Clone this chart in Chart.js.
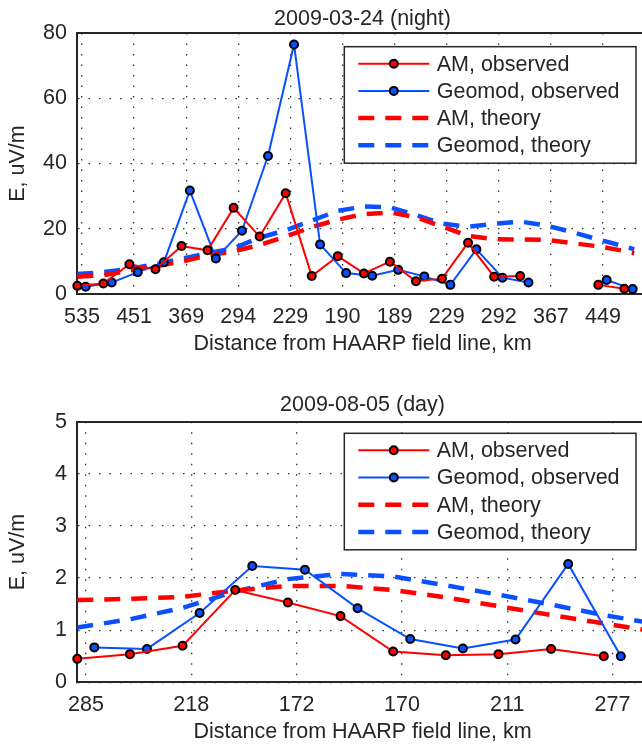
<!DOCTYPE html>
<html>
<head>
<meta charset="utf-8">
<script src="https://cdn.jsdelivr.net/npm/chart.js@4.4.1/dist/chart.umd.min.js"></script>
<style>
  html, body { margin: 0; padding: 0; background: #fff; overflow: hidden; width: 642px; height: 745px; }
  canvas { position: absolute; left: 0; }
  #night { top: 0; }
  #day { top: 360px; }
</style>
</head>
<body>
<canvas id="night" width="660" height="360"></canvas>
<canvas id="day" width="660" height="385"></canvas>
<script>
// ---- 2009-03-24 (night) ----
const nightTickPos = [0, 1, 2, 3, 4, 5, 6, 7, 8, 9, 10];
const nightTickLabels = ['535', '451', '369', '294', '229', '190', '189', '229', '292', '367', '449'];
const nightAmX = [-0.09, 0.41, 0.91, 1.41, 1.91, 2.41, 2.91, 3.41, 3.91, 4.41, 4.91, 5.41, 5.91, 6.41, 6.91, 7.41, 7.91, 8.41, 8.91, 9.41, 9.91, 10.41];
const nightAmObs = [2.5, 3.2, 9.1, 7.6, 14.7, 13.4, 26.4, 17.6, 30.9, 5.5, 11.6, 6.3, 9.9, 3.9, 4.7, 15.7, 5.3, 5.5, null, null, 2.8, 1.6];
const nightGeoX = [0.07, 0.57, 1.07, 1.57, 2.07, 2.57, 3.07, 3.57, 4.07, 4.57, 5.07, 5.57, 6.07, 6.57, 7.07, 7.57, 8.07, 8.57, 9.07, 9.57, 10.07, 10.57];
const nightGeoObs = [2.2, 3.5, 6.7, 9.7, 31.7, 10.9, 19.4, 42.3, 76.5, 15.2, 6.4, 5.6, 7.4, 5.4, 2.8, 13.7, 5.0, 3.5, null, null, 4.3, 1.5];
const nightTheoryX = [-0.09, 0.41, 0.91, 1.41, 1.91, 2.41, 2.91, 3.41, 3.91, 4.41, 4.91, 5.41, 5.91, 6.41, 6.91, 7.41, 7.91, 8.41, 8.91, 9.41, 9.91, 10.41, 10.6];
const nightAmTheory = [5.3, 5.8, 7.2, 8.5, 9.9, 11.8, 13.1, 15.0, 17.6, 20.5, 22.8, 24.5, 25.0, 23.5, 20.7, 17.8, 16.8, 16.7, 16.6, 15.6, 14.6, 13.2, 12.5];
const nightGeoTheory = [6.1, 6.7, 7.7, 9.1, 10.8, 12.5, 14.0, 17.3, 19.5, 22.5, 25.5, 26.8, 26.6, 24.2, 21.6, 20.6, 21.5, 22.2, 21.0, 19.0, 16.7, 14.6, 13.7];

// ---- 2009-08-05 (day) ----
const dayTickPos = [0, 1, 2, 3, 4, 5];
const dayTickLabels = ['285', '218', '172', '170', '211', '277'];
const dayAmX = [-0.083, 0.417, 0.917, 1.417, 1.917, 2.417, 2.917, 3.417, 3.917, 4.417, 4.917];
const dayAmObs = [0.45, 0.54, 0.70, 1.77, 1.53, 1.27, 0.59, 0.52, 0.54, 0.64, 0.50];
const dayGeoX = [0.079, 0.579, 1.079, 1.579, 2.079, 2.579, 3.079, 3.579, 4.079, 4.579, 5.079];
const dayGeoObs = [0.67, 0.64, 1.33, 2.23, 2.16, 1.42, 0.83, 0.65, 0.82, 2.27, 0.50];
const dayTheoryX = [-0.083, 0.417, 0.917, 1.417, 1.917, 2.417, 2.917, 3.417, 3.917, 4.417, 4.917, 5.42];
const dayAmTheory = [1.58, 1.60, 1.64, 1.76, 1.85, 1.85, 1.77, 1.63, 1.46, 1.29, 1.13, 0.97];
const dayGeoTheory = [1.05, 1.21, 1.43, 1.74, 1.98, 2.08, 2.03, 1.86, 1.68, 1.49, 1.29, 1.12];

const INK = '#262626';
const RED = '#ff0000';
const BLUE = '#0a50ff';
const FONT = '"Liberation Sans", Arial, Helvetica, sans-serif';
const FS = 21.5;

const pts = (xs, ys) => xs.map((x, i) => ({ x, y: ys[i] }));

// MATLAB-style legend box drawn inside the axes
const boxLegend = {
  id: 'boxLegend',
  afterDatasetsDraw(chart, args, o) {
    const ctx = chart.ctx;
    const x0 = chart.chartArea.left + o.dx, y0 = chart.chartArea.top + o.dy;
    ctx.save();
    ctx.fillStyle = '#fff';
    ctx.fillRect(x0, y0, o.w, o.h);
    ctx.strokeStyle = INK; ctx.lineWidth = 1.5;
    ctx.strokeRect(x0, y0, o.w, o.h);
    chart.data.datasets.forEach((ds, i) => {
      const y = y0 + o.firstRow + i * o.rowH;
      ctx.beginPath();
      ctx.setLineDash(ds.borderDash || []);
      ctx.lineWidth = ds.borderWidth; ctx.strokeStyle = ds.borderColor;
      ctx.moveTo(x0 + o.lineX0, y); ctx.lineTo(x0 + o.lineX1, y);
      ctx.stroke();
      ctx.setLineDash([]);
      if (ds.pointRadius > 0) {
        ctx.beginPath();
        ctx.arc(x0 + (o.lineX0 + o.lineX1) / 2, y, ds.pointRadius, 0, Math.PI * 2);
        ctx.fillStyle = ds.pointBackgroundColor; ctx.fill();
        ctx.lineWidth = ds.pointBorderWidth; ctx.strokeStyle = ds.pointBorderColor;
        ctx.stroke();
      }
      ctx.fillStyle = INK;
      ctx.font = FS + 'px ' + FONT;
      ctx.textBaseline = 'middle';
      ctx.fillText(ds.label, x0 + o.textX, y + 1);
    });
    ctx.restore();
  }
};

function observed(label, xs, ys, color) {
  return {
    label, data: pts(xs, ys), order: 0,
    borderColor: color, borderWidth: 2,
    pointRadius: 4, pointBackgroundColor: color,
    pointBorderColor: '#000', pointBorderWidth: 2,
    spanGaps: false, clip: false
  };
}
function theory(label, xs, ys, color) {
  return {
    label, data: pts(xs, ys), order: 1,
    borderColor: color, borderWidth: 4.5, borderDash: [16, 11],
    pointRadius: 0, tension: 0
  };
}

function makeChart(id, c) {
  return new Chart(document.getElementById(id), {
    type: 'line',
    data: {
      datasets: [
        observed('AM, observed', c.amX, c.amObs, RED),
        observed('Geomod, observed', c.geoX, c.geoObs, BLUE),
        theory('AM, theory', c.thX, c.amTh, RED),
        theory('Geomod, theory', c.thX, c.geoTh, BLUE)
      ]
    },
    options: {
      responsive: false, animation: false, devicePixelRatio: 1,
      layout: { padding: { left: 0, right: 12, top: 0, bottom: 0 } },
      plugins: {
        legend: { display: false }, tooltip: { enabled: false }, title: { display: false },
        boxLegend: { dx: 267.3, dy: c.legendDy, w: 291.7, h: 116.5, firstRow: 17, rowH: 27.2, lineX0: 14, lineX1: 85, textX: 92.4 }
      },
      scales: {
        x: {
          type: 'linear', position: 'bottom', min: c.xMin, max: c.xMax,
          afterBuildTicks: ax => { ax.ticks = c.tickPos.map(v => ({ value: v })); },
          afterFit: ax => { ax.height = c.xAxisH; },
          ticks: { callback: (v, i) => c.tickLabels[i], color: INK, font: { size: FS, family: FONT }, padding: c.xTickPad, maxRotation: 0, autoSkip: false },
          grid: { color: 'rgba(0,0,0,0.8)', lineWidth: 1.3, drawTicks: false },
          border: { display: true, color: INK, width: 2, dash: [1.5, 9] },
          title: { display: true, text: 'Distance from HAARP field line, km', color: INK, font: { size: FS, family: FONT, lineHeight: 1 }, padding: { top: 0, bottom: c.xTitlePad } }
        },
        x2: {
          type: 'linear', position: 'top', min: c.xMin, max: c.xMax,
          afterFit: ax => { ax.height = c.topH; },
          ticks: { display: false },
          grid: { display: false, drawTicks: false },
          border: { display: true, color: INK, width: 2 },
          title: { display: true, text: c.title, color: INK, font: { size: FS, family: FONT, lineHeight: 1 }, padding: { top: c.titlePad, bottom: 0 } }
        },
        y: {
          type: 'linear', position: 'left', min: 0, max: c.yMax,
          afterFit: ax => { ax.width = 77; },
          ticks: { stepSize: c.yStep, color: INK, font: { size: FS, family: FONT }, padding: 10 },
          grid: { color: 'rgba(0,0,0,0.8)', lineWidth: 1.3, drawTicks: false },
          border: { display: true, color: INK, width: 2, dash: [1.5, 9] },
          title: { display: true, text: 'E, uV/m', color: INK, font: { size: FS, family: FONT, lineHeight: 1 }, padding: { top: 7.75, bottom: 0 } }
        }
      }
    },
    plugins: [boxLegend]
  });
}

makeChart('night', {
  title: '2009-03-24 (night)',
  amX: nightAmX, amObs: nightAmObs, geoX: nightGeoX, geoObs: nightGeoObs,
  thX: nightTheoryX, amTh: nightAmTheory, geoTh: nightGeoTheory,
  tickPos: nightTickPos, tickLabels: nightTickLabels,
  xMin: -0.096, xMax: 10.864, yMax: 80, yStep: 20,
  topH: 33, titlePad: 8.25, xAxisH: 66, xTickPad: 10.1, xTitlePad: 5.25, legendDy: 13.7
});

makeChart('day', {
  title: '2009-08-05 (day)',
  amX: dayAmX, amObs: dayAmObs, geoX: dayGeoX, geoObs: dayGeoObs,
  thX: dayTheoryX, amTh: dayAmTheory, geoTh: dayGeoTheory,
  tickPos: dayTickPos, tickLabels: dayTickLabels,
  xMin: -0.0855, xMax: 5.337, yMax: 5, yStep: 1,
  topH: 61.7, titlePad: 34.25, xAxisH: 62.7, xTickPad: 9.8, xTitlePad: 1.75, legendDy: 11.6
});
</script>
</body>
</html>
